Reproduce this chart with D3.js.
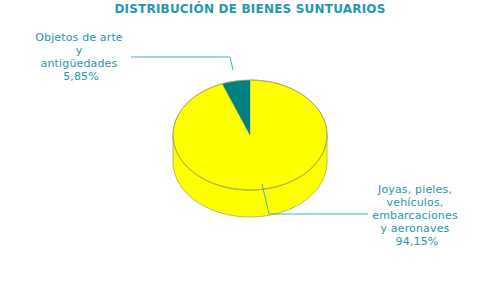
<!DOCTYPE html>
<html><head><meta charset="utf-8">
<script src="https://cdn.jsdelivr.net/npm/d3@7"></script>
<style>body{margin:0;background:#fff}svg{display:block}</style>
</head><body><svg width="500" height="300"></svg>
<script>
const title = "DISTRIBUCIÓN DE BIENES SUNTUARIOS";
const categories = ["Joyas, pieles, vehículos, embarcaciones y aeronaves", "Objetos de arte y antigüedades"];
const labelLines = [["Joyas, pieles,", "vehículos,", "embarcaciones", "y aeronaves", "94,15%"], ["Objetos de arte", "y", "antigüedades", "5,85%"]];
const values = [94.15, 5.85];
const colors = ["#ffff00", "#008080"];

const svg = d3.select("svg");
const cx = 250, cy = 135, rx = 77, ry = 55, depth = 27;
const textColor = "#2596ad", lineColor = "#45b2c8", edge = "#a8a860";

svg.append("text").attr("x", 250).attr("y", 13).attr("text-anchor", "middle")
  .attr("font-family", "DejaVu Sans").attr("font-weight", "bold").attr("font-size", 12)
  .attr("letter-spacing", 0.2).attr("fill", textColor).text(title);

const pie = d3.pie().sort(null).value(d => d);
const arcs = pie(values);
const pt = (a, dy = 0) => [cx + rx * Math.sin(a), cy - ry * Math.cos(a) + dy];

// side walls (front half only: a in [PI/2, 3PI/2])
arcs.forEach((d, i) => {
  const a0 = Math.max(d.startAngle, Math.PI / 2), a1 = Math.min(d.endAngle, 3 * Math.PI / 2);
  if (a1 <= a0) return;
  const n = 60, top = [], bot = [];
  for (let k = 0; k <= n; k++) { const a = a0 + (a1 - a0) * k / n; top.push(pt(a)); bot.push(pt(a, depth)); }
  const pts = top.concat(bot.reverse());
  svg.append("path").attr("d", d3.line()(pts) + "Z").attr("fill", colors[i])
    .attr("stroke", edge).attr("stroke-width", 0.8);
});

// top slices
arcs.forEach((d, i) => {
  const n = 120, pts = [[cx, cy]];
  for (let k = 0; k <= n; k++) { const a = d.startAngle + (d.endAngle - d.startAngle) * k / n; pts.push(pt(a)); }
  svg.append("path").attr("d", d3.line()(pts) + "Z").attr("fill", colors[i])
    .attr("stroke", i === 1 ? "none" : edge).attr("stroke-width", 0.8);
});
svg.append("ellipse").attr("cx", cx).attr("cy", cy).attr("rx", rx).attr("ry", ry)
  .attr("fill", "none").attr("stroke", edge).attr("stroke-width", 0.8);

// leader lines
svg.append("polyline").attr("points", "262,184 269,214 368,214")
  .attr("fill", "none").attr("stroke", lineColor).attr("stroke-width", 1);
svg.append("polyline").attr("points", "233,70 230,57 131,57")
  .attr("fill", "none").attr("stroke", lineColor).attr("stroke-width", 1);

// labels
function label(lines, x, y0) {
  const t = svg.append("text").attr("font-family", "DejaVu Sans").attr("font-size", 11)
    .attr("letter-spacing", 0.15).attr("fill", textColor).attr("text-anchor", "middle");
  lines.forEach((l, k) => t.append("tspan").attr("x", k === lines.length - 1 ? x + 2 : x).attr("y", y0 + k * 13).text(l));
}
label(labelLines[0], 415, 193);
label(labelLines[1], 79, 41);
</script></body></html>
